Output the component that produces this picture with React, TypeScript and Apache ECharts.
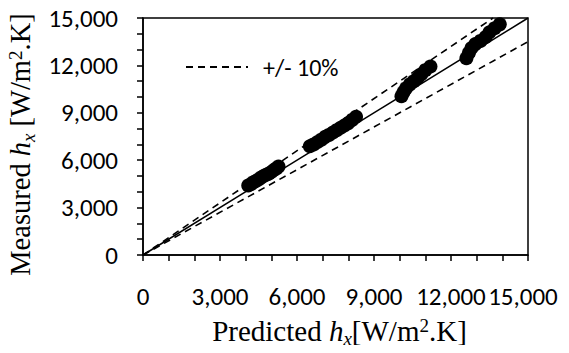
import React, { useEffect, useRef } from "react";
import * as echarts from "echarts";

// Cluster data: predicted h_x vs measured h_x [W/m2.K]
const predictedA = [4100, 4200, 4300, 4400, 4500, 4600, 4700, 4800, 4900, 5000, 5100, 5200, 5280];
const measuredA = [4400, 4480, 4600, 4680, 4780, 4900, 5000, 5080, 5150, 5250, 5380, 5480, 5600];
const predictedB = [6500, 6650, 6800, 6950, 7100, 7250, 7400, 7550, 7700, 7850, 8000, 8150, 8300];
const measuredB = [6880, 7000, 7150, 7300, 7480, 7600, 7750, 7900, 8050, 8200, 8350, 8550, 8750];
const predictedC = [10070, 10150, 10250, 10400, 10550, 10700, 10850, 11000, 11200];
const measuredC = [10050, 10300, 10550, 10800, 11000, 11200, 11450, 11700, 11930];
const predictedD = [12600, 12700, 12800, 12950, 13150, 13350, 13500, 13700, 13900];
const measuredD = [12450, 12800, 13100, 13350, 13550, 13800, 14100, 14350, 14600];

// Reference lines: 1:1 and +/-10%
const perfectLine = [[0, 0], [15000, 15000]];
const upperLine = [[0, 0], [13636, 15000]];
const lowerLine = [[0, 0], [15000, 13500]];

const xTicks = [0, 3000, 6000, 9000, 12000, 15000];
const yTicks = [0, 3000, 6000, 9000, 12000, 15000];

const legendLabel = "+/- 10%";

const serif = "'Liberation Serif', 'Times New Roman', serif";
const sans = "Carlito, Calibri, Lato, 'Open Sans', sans-serif";

const makeRich = (size: number, startPad: number, endPad: number) => {
  const small = Math.round(size * 0.66);
  return {
    s: { fontFamily: serif, fontSize: size, lineHeight: size, verticalAlign: "top", color: "#000", padding: [0, 0, 0, startPad] },
    n: { fontFamily: serif, fontSize: size, lineHeight: size, verticalAlign: "top", color: "#000" },
    e: { fontFamily: serif, fontSize: size, lineHeight: size, verticalAlign: "top", color: "#000", padding: [0, endPad, 0, 0] },
    i: { fontFamily: serif, fontSize: size, lineHeight: size, fontStyle: "italic", verticalAlign: "top", color: "#000" },
    sub: { fontFamily: serif, fontSize: small, lineHeight: small, fontStyle: "italic", verticalAlign: "top", padding: [Math.round(size * 0.45), 0, 0, 0], color: "#000" },
    sup: { fontFamily: serif, fontSize: small, lineHeight: small, verticalAlign: "top", color: "#000" },
  };
};

const fmt = (v: number) => v.toLocaleString("en-US");

export default function App() {
  const ref = useRef<HTMLDivElement>(null);
  useEffect(() => {
    if (!ref.current) return;
    const chart = echarts.init(ref.current, null, { renderer: "svg" });
    const pairs = (p: number[], m: number[]) => p.map((v, i) => [v, m[i]]);
    const scatterData = [
      ...pairs(predictedA, measuredA),
      ...pairs(predictedB, measuredB),
      ...pairs(predictedC, measuredC),
      ...pairs(predictedD, measuredD),
    ];
    const dashStyle = { color: "#000", width: 1.6, type: [7, 5] };
    chart.setOption({
      animation: false,
      backgroundColor: "#fff",
      grid: {
        left: 143, right: 41, top: 18, bottom: 98,
        outerBoundsMode: "none", containLabel: false,
        show: true, borderColor: "#000", borderWidth: 1.5, backgroundColor: "transparent",
      },
      legend: {
        data: [legendLabel],
        left: 180,
        top: 50,
        itemWidth: 62,
        itemHeight: 14,
        itemStyle: { opacity: 0, borderWidth: 0 },
        textStyle: { fontFamily: sans, fontSize: 24, color: "#000", padding: [0, 0, 0, 10] },
      },
      xAxis: {
        type: "value",
        min: 0,
        max: 15000,
        interval: 3000,
        name: "{s|Predicted }{i|h}{sub|x}{n|[W/m}{sup|2}{n|.K]}",
        nameLocation: "middle",
        nameGap: 61,
        nameTextStyle: { rich: makeRich(29, 8, 0) },
        axisLine: { lineStyle: { color: "#000", width: 1.5 } },
        axisTick: { show: true, length: 6, lineStyle: { color: "#000", width: 1.5 } },
        minorTick: { show: true, splitNumber: 3, length: 6, lineStyle: { color: "#000", width: 1.5 } },
        splitLine: { show: false },
        axisLabel: {
          margin: 29,
          fontFamily: sans,
          fontSize: 25,
          color: "#000",
          showMinLabel: true,
          showMaxLabel: true,
          hideOverlap: false,
          formatter: (v: number) => (v === xTicks[xTicks.length - 1] ? "{last|" + fmt(v) + "}" : fmt(v)),
          rich: { last: { fontFamily: sans, fontSize: 25, color: "#000", padding: [0, 10, 0, 0] } },
        },
      },
      yAxis: {
        type: "value",
        min: 0,
        max: 15000,
        interval: 3000,
        name: "{s|Measured }{i|h}{sub|x}{n| [W/m}{sup|2}{e|.K]}",
        nameLocation: "middle",
        nameGap: 105,
        nameRotate: 90,
        nameTextStyle: { rich: makeRich(28.5, 0, 16) },
        axisLine: { show: true, lineStyle: { color: "#000", width: 1.5 } },
        axisTick: { show: true, length: 6, lineStyle: { color: "#000", width: 1.5 } },
        minorTick: { show: true, splitNumber: 3, length: 6, lineStyle: { color: "#000", width: 1.5 } },
        splitLine: { show: false },
        axisLabel: { margin: 25, fontFamily: sans, fontSize: 25, color: "#000", showMaxLabel: true, formatter: (v: number) => fmt(v) },
      },
      series: [
        { name: "1:1", type: "line", data: perfectLine, symbol: "none", lineStyle: { color: "#000", width: 1.5 }, z: 2 },
        { name: legendLabel, type: "line", data: upperLine, symbol: "none", lineStyle: dashStyle, itemStyle: { color: "#000" }, z: 2 },
        { name: legendLabel, type: "line", data: lowerLine, symbol: "none", lineStyle: dashStyle, itemStyle: { color: "#000" }, z: 2 },
        { name: "data", type: "scatter", data: scatterData, symbol: "circle", symbolSize: 14, itemStyle: { color: "#000", opacity: 1 }, z: 3 },
      ],
    });
    return () => chart.dispose();
  }, []);
  return <div ref={ref} style={{ width: 569, height: 353, margin: -8 }} />;
}
